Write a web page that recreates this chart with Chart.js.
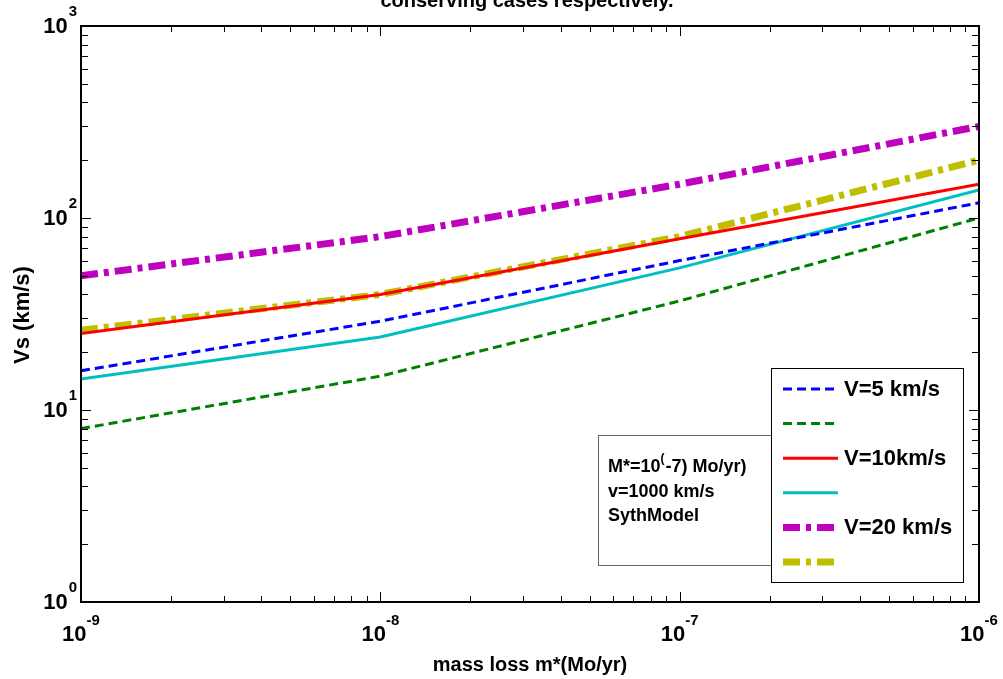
<!DOCTYPE html>
<html><head><meta charset="utf-8">
<script src="https://cdn.jsdelivr.net/npm/chart.js@4/dist/chart.umd.min.js"></script>
<style>html,body{margin:0;padding:0;background:#fff;}#wrap{width:1003px;height:679px;position:relative;}</style>
</head><body><div id="wrap"><canvas id="c"></canvas></div>
<script>
// ---- data ----
const massLoss = [1e-9, 1e-8, 1e-7, 1e-6];
const vs5a  = [16, 29, 60, 120];     // blue dashed
const vs5b  = [8, 15, 37, 100];      // green dashed
const vs10a = [25, 40, 78, 150];     // red solid
const vs10b = [14.5, 24, 55, 140];   // cyan solid
const vs20a = [50, 80, 150, 300];    // magenta dash-dot
const vs20b = [26, 40, 80, 200];     // yellow dash-dot
const legendLabels = ['V=5 km/s', '', 'V=10km/s', '', 'V=20 km/s', ''];
const xTickValues = [1e-9, 1e-8, 1e-7, 1e-6];
const xTickExps = ['-9', '-8', '-7', '-6'];
const yTickValues = [1, 10, 100, 1000];
const yTickExps = ['0', '1', '2', '3'];
const titleText = 'conserving cases respectively.';
const xTitle = 'mass loss m*(Mo/yr)';
const yTitle = 'Vs (km/s)';
const noteLine1a = 'M*=10', noteLine1sup = '(', noteLine1b = '-7) Mo/yr)';
const noteLine2 = 'v=1000 km/s';
const noteLine3 = 'SythModel';

const F = '"Liberation Sans", Arial, sans-serif';
const pts = arr => massLoss.map((m, i) => ({x: m, y: arr[i]}));
const ds = (label, arr, color, width, dash) => ({
  label, data: pts(arr), borderColor: color, backgroundColor: color,
  borderWidth: width, borderDash: dash, pointRadius: 0, tension: 0,
  borderCapStyle: 'butt', fill: false
});
const datasets = [
  ds(legendLabels[0], vs5a, '#0000ff', 3, [9, 5]),
  ds(legendLabels[1], vs5b, '#008000', 3, [9, 5]),
  ds(legendLabels[2], vs10a, '#ff0000', 3, []),
  ds(legendLabels[3], vs10b, '#00bfbf', 3, []),
  ds(legendLabels[4], vs20a, '#bf00bf', 7, [17, 6, 5, 6]),
  ds(legendLabels[5], vs20b, '#bfbf00', 7, [17, 6, 5, 6])
];

const deco = {
  id: 'deco',
  afterDatasetsDraw(chart) {
    const {ctx, chartArea: a, scales: {x, y}} = chart;
    ctx.save();
    // frame
    ctx.strokeStyle = '#000'; ctx.lineWidth = 2;
    ctx.strokeRect(a.left, a.top, a.right - a.left, a.bottom - a.top);
    ctx.lineWidth = 1;
    const tk = (px, py, dx, dy) => { ctx.beginPath(); ctx.moveTo(px, py); ctx.lineTo(px + dx, py + dy); ctx.stroke(); };
    xTickValues.forEach((v, i) => {
      const p = Math.round(x.getPixelForValue(v)) + 0.5;
      tk(p, a.bottom, 0, -10); tk(p, a.top, 0, 10);
      if (i < xTickValues.length - 1) for (let k = 2; k < 10; k++) {
        const q = Math.round(x.getPixelForValue(v * k)) + 0.5;
        tk(q, a.bottom, 0, -6); tk(q, a.top, 0, 6);
      }
    });
    yTickValues.forEach((v, i) => {
      const p = Math.round(y.getPixelForValue(v)) + 0.5;
      tk(a.left, p, 10, 0); tk(a.right, p, -10, 0);
      if (i < yTickValues.length - 1) for (let k = 2; k < 10; k++) {
        const q = Math.round(y.getPixelForValue(v * k)) + 0.5;
        tk(a.left, q, 7, 0); tk(a.right, q, -7, 0);
      }
    });
    ctx.fillStyle = '#000';
    // x tick labels
    xTickValues.forEach((v, i) => {
      const p = x.getPixelForValue(v);
      ctx.font = 'bold 22px ' + F;
      const wb = ctx.measureText('10').width;
      ctx.font = 'bold 15px ' + F;
      const we = ctx.measureText(xTickExps[i]).width;
      const x0 = p - (wb + we) / 2;
      ctx.textBaseline = 'middle'; ctx.textAlign = 'left';
      ctx.font = 'bold 22px ' + F; ctx.fillText('10', x0, a.bottom + 33);
      ctx.font = 'bold 15px ' + F; ctx.fillText(xTickExps[i], x0 + wb, a.bottom + 19);
    });
    // y tick labels
    yTickValues.forEach((v, i) => {
      const p = y.getPixelForValue(v);
      const xr = a.left - 4;
      ctx.textBaseline = 'middle'; ctx.textAlign = 'right';
      ctx.font = 'bold 15px ' + F;
      const we = ctx.measureText(yTickExps[i]).width;
      ctx.fillText(yTickExps[i], xr, p - 14);
      ctx.font = 'bold 22px ' + F; ctx.fillText('10', xr - we - 1, p + 1);
    });
    // titles
    ctx.textAlign = 'center'; ctx.textBaseline = 'alphabetic';
    ctx.font = 'bold 20px ' + F; ctx.fillText(titleText, 527, 7);
    ctx.textBaseline = 'middle';
    ctx.fillText(xTitle, (a.left + a.right) / 2, 665);
    ctx.save(); ctx.translate(23, 315); ctx.rotate(-Math.PI / 2);
    ctx.font = 'bold 22px ' + F;
    ctx.fillText(yTitle, 0, 0); ctx.restore();
    // note box
    ctx.fillStyle = '#fff'; ctx.fillRect(598, 435, 174, 130);
    ctx.strokeStyle = '#666'; ctx.lineWidth = 1; ctx.strokeRect(598.5, 435.5, 174, 130);
    ctx.fillStyle = '#000'; ctx.textAlign = 'left'; ctx.textBaseline = 'middle';
    ctx.font = 'bold 18px ' + F;
    let tx = 608;
    ctx.fillText(noteLine1a, tx, 467); tx += ctx.measureText(noteLine1a).width;
    ctx.font = 'bold 12px ' + F; ctx.fillText(noteLine1sup, tx, 459); tx += ctx.measureText(noteLine1sup).width + 1;
    ctx.font = 'bold 18px ' + F; ctx.fillText(noteLine1b, tx, 467);
    ctx.fillText(noteLine2, 608, 492);
    ctx.fillText(noteLine3, 608, 516);
    // legend
    ctx.fillStyle = '#fff'; ctx.fillRect(771, 368, 192, 214);
    ctx.strokeStyle = '#000'; ctx.lineWidth = 1; ctx.strokeRect(771.5, 368.5, 192, 214);
    chart.data.datasets.forEach((d, i) => {
      const ry = 389 + i * 34.6;
      ctx.save();
      ctx.strokeStyle = d.borderColor; ctx.lineWidth = d.borderWidth; ctx.lineCap = 'butt';
      ctx.setLineDash(d.borderDash || []);
      ctx.beginPath(); ctx.moveTo(783, ry); ctx.lineTo(838, ry); ctx.stroke();
      ctx.restore();
      if (d.label) {
        ctx.fillStyle = '#000'; ctx.font = 'bold 22px ' + F;
        ctx.textAlign = 'left'; ctx.textBaseline = 'middle';
        ctx.fillText(d.label, 844, ry + 1);
      }
    });
    ctx.restore();
  }
};

new Chart(document.getElementById('c'), {
  type: 'line',
  data: {datasets},
  options: {
    responsive: true, maintainAspectRatio: false, animation: false,
    layout: {padding: {left: 81, right: 24, top: 26, bottom: 77}},
    plugins: {legend: {display: false}, tooltip: {enabled: false}, title: {display: false}},
    scales: {
      x: {type: 'logarithmic', min: 1e-9, max: 1e-6, display: false},
      y: {type: 'logarithmic', min: 1, max: 1000, display: false}
    }
  },
  plugins: [deco]
});
</script></body></html>
